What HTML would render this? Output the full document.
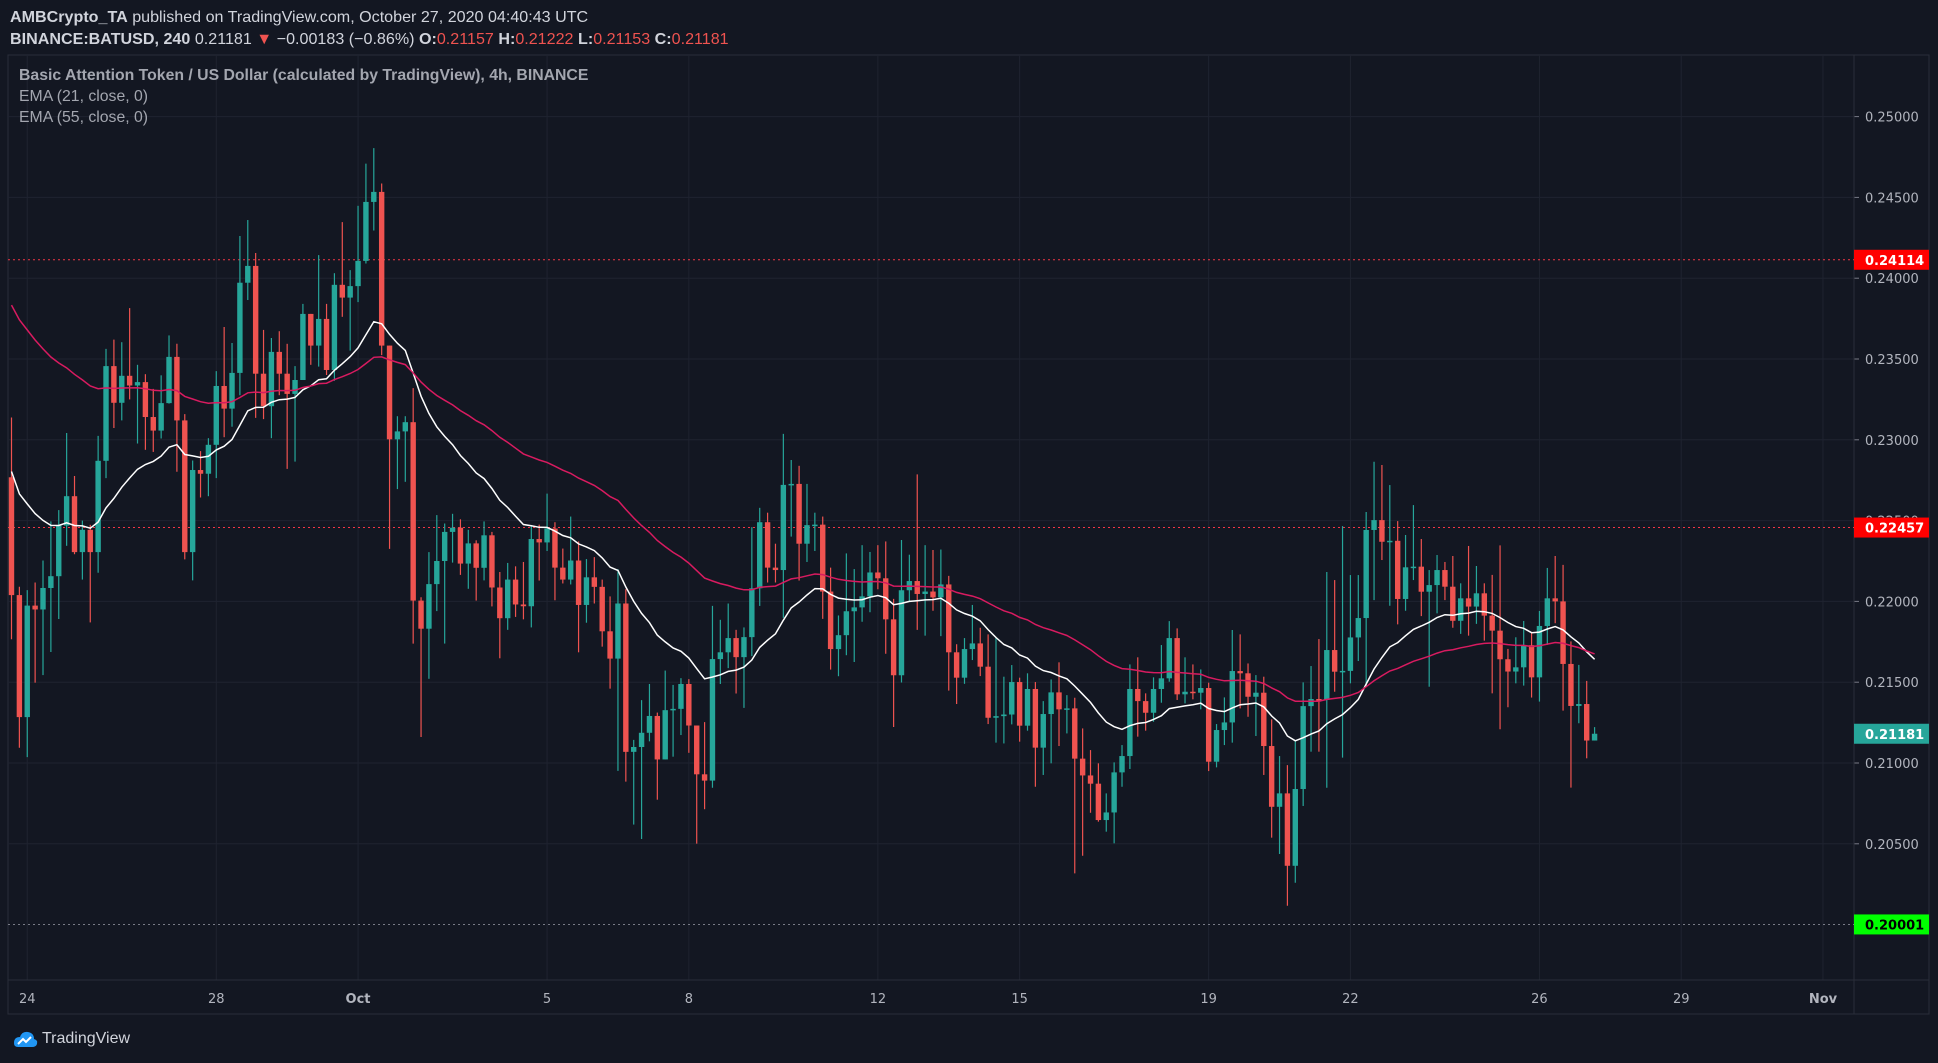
<!DOCTYPE html>
<html><head><meta charset="utf-8"><style>
html,body{margin:0;padding:0;background:#131722;width:1938px;height:1063px;overflow:hidden;font-family:"Liberation Sans",sans-serif}
.hdr{position:absolute;left:10px;color:#d1d4dc;font-size:16.1px;white-space:nowrap}
.red{color:#ef5350}
.leg{position:absolute;left:19px;color:#a3a6af;font-size:15.8px;white-space:nowrap}
</style></head><body>
<div class="hdr" style="top:8px"><b>AMBCrypto_TA</b> published on TradingView.com, October 27, 2020 04:40:43 UTC</div>
<div class="hdr" style="top:30px"><b>BINANCE:BATUSD, 240</b> 0.21181 <span class="red">▼</span> −0.00183 (−0.86%) <b>O:</b><span class="red">0.21157</span> <b>H:</b><span class="red">0.21222</span> <b>L:</b><span class="red">0.21153</span> <b>C:</b><span class="red">0.21181</span></div>
<svg id="chart" width="1938" height="1063" style="position:absolute;left:0;top:0"></svg>
<div class="leg" style="top:67px;font-weight:bold">Basic Attention Token / US Dollar (calculated by TradingView), 4h, BINANCE</div>
<div class="leg" style="top:88px">EMA (21, close, 0)</div>
<div class="leg" style="top:109px">EMA (55, close, 0)</div>
<div style="position:absolute;left:12px;top:1029px;display:flex;align-items:center">
<svg width="26" height="20" viewBox="0 0 26 20"><path d="M2 14 Q2 8 8 8 Q10 2 16 3 Q22 4 22 10 Q26 11 25 15 Q24 18 20 18 L6 18 Q2 18 2 14Z" fill="#2196f3"/><path d="M6 15 L11 10 L14 13 L19 8" stroke="#fff" stroke-width="2" fill="none"/></svg>
<span style="color:#d1d4dc;font-size:16px;margin-left:4px">TradingView</span></div>
<script>
const firstOpen=22768;
const closes=[22039,21284,21974,21950,22083,22156,22469,22651,22305,22443,22305,22870,23456,23229,23396,23336,23357,23141,23057,23227,23513,23120,22305,22813,22790,22969,23333,23193,23414,23972,24076,23409,23208,23544,23409,23284,23370,23779,23583,23748,23432,23959,23880,23951,24107,24472,24534,23583,23003,23052,23109,22005,21831,22107,22250,22430,22456,22234,22359,22208,22409,22086,21896,22135,21981,21970,22386,22365,22451,22209,22135,22253,21978,22149,22090,21815,21646,21987,21069,21099,21187,21291,21022,21327,21335,21489,21232,20930,20891,21643,21685,21773,21655,21779,22081,22490,22209,22194,22721,22727,22357,22472,22475,22061,21705,21791,21939,21963,22031,22179,22143,21889,21543,22069,22126,22046,22061,22025,22105,21685,21528,21705,21740,21596,21280,21290,21300,21501,21231,21458,21095,21303,21437,21332,21338,21027,20923,20872,20647,20694,20942,21043,21458,21383,21311,21458,21524,21773,21425,21441,21435,21464,21008,21204,21251,21569,21555,21410,21435,21105,20729,20812,20364,20839,21352,21396,21390,21699,21565,21570,21777,21897,22442,22503,22369,22375,22015,22211,22215,22060,22101,22194,22091,21880,22019,21968,22050,21912,21819,21642,21566,21592,21729,21530,21848,22019,22000,21613,21353,21365,21139,21181];
const highs=[23138,22091,22070,22117,22253,22495,22565,23042,22776,22500,22474,23024,23563,23620,23604,23815,23464,23406,23315,23399,23646,23594,23159,22872,22930,23010,23425,23698,23599,24261,24360,24156,23680,23630,23672,23594,23456,23841,23771,24143,23841,24031,24347,24050,24448,24709,24805,24586,23570,23146,23146,23320,22026,22305,22534,22482,22542,22508,22443,22378,22495,22430,22182,22238,22217,22244,22466,22475,22667,22490,22327,22525,22371,22262,22274,22135,22031,22200,22075,21143,21389,21489,21312,21572,21483,21525,21519,21232,21253,21972,21886,21987,21824,21839,22460,22579,22549,22357,23037,22875,22839,22727,22549,22525,22209,21913,22297,22200,22348,22306,22348,22371,22016,22380,22289,22786,22348,22318,22321,22158,21735,21773,21978,21837,21796,21777,21534,21606,21528,21555,21501,21383,21517,21623,21420,21404,21214,21080,20998,20812,21004,21111,21610,21654,21431,21530,21730,21878,21833,21654,21610,21579,21497,21241,21406,21823,21796,21616,21544,21534,21270,21043,20987,21142,21499,21600,21767,22182,22132,22466,22163,22163,22553,22864,22844,22720,22497,22411,22596,22386,22194,22287,22244,22281,22112,22343,22219,22112,22164,22347,21706,21778,21879,21803,21941,22207,22281,22226,21753,21607,21508,21222];
const lows=[21766,21094,21036,21497,21544,21687,21891,22344,22292,22135,21870,22177,22763,23073,23120,23250,22977,22938,22925,23008,23224,22802,22260,22130,22643,22651,22763,23016,23081,23276,23865,23136,23128,23010,23276,22820,22865,23388,23464,23453,23401,23365,23761,23552,23852,24091,24295,23524,22325,22695,22740,21739,21161,21521,21940,21739,22240,22164,22078,22005,22130,21969,21648,21824,21904,21889,21839,22129,22312,22007,22111,22105,21685,21868,21987,21720,21460,20951,20885,20619,20530,21134,20773,21030,21039,21173,21063,20501,20714,20847,21489,21587,21430,21341,21661,21972,22117,22117,21898,22401,22129,22244,22312,21892,21578,21537,21667,21625,21874,21933,22075,21676,21223,21498,22001,21824,21788,21942,21785,21448,21365,21490,21637,21538,21241,21126,21121,21239,21132,21200,20853,20926,20998,21105,21183,20317,20426,20692,20637,20575,20503,20853,20963,21163,21200,21255,21373,21503,21390,21369,21394,21332,20950,20973,21111,21126,21338,21286,21167,20926,20538,20437,20117,20259,20734,21070,21070,20847,21441,21033,21493,21631,21472,22008,22256,21973,21858,21942,22132,21909,21472,21926,22008,21837,21799,21788,21861,21757,21431,21209,21345,21493,21479,21405,21380,21731,21865,21324,20848,21246,21029,21153];
const emaSeeds=[22880,23900];
const priceTicks=[0.205,0.21,0.215,0.22,0.225,0.23,0.235,0.24,0.245,0.25];
const priceTickLabels=["0.20500","0.21000","0.21500","0.22000","0.22500","0.23000","0.23500","0.24000","0.24500","0.25000"];
const dayLabels=["24","28","Oct","5","8","12","15","19","22","26","29","Nov"];
const dayOffsets=[0,4,7,11,14,18,21,25,28,32,35,38];
const levels=[0.24114,0.22457,0.20001];
const levelLabels=["0.24114","0.22457","0.20001"];

const NS="http://www.w3.org/2000/svg";
const svg=document.getElementById('chart');
const L=8,R=1854,T=55,B=980,AX=1929,BOT=1014;
function yOf(p){return 116.6+(0.25-p)*16160;}
function xOf(i){return 11.5+i*7.876;}
function xDay(d){return xOf(2)+d*6*7.876;}
function mk(tag,at){const e=document.createElementNS(NS,tag);for(const k in at)e.setAttribute(k,at[k]);svg.appendChild(e);return e;}

const frame=mk('rect',{x:L,y:T,width:AX-L,height:BOT-T,fill:'none',stroke:'#2a2e39','stroke-width':1});


priceTicks.forEach((p,i)=>{
  const g=mk('line',{x1:L,x2:R,y1:yOf(p),y2:yOf(p),stroke:'#1f2330','stroke-width':1});
  
  
  const tk=mk('line',{x1:R,x2:R+5,y1:yOf(p),y2:yOf(p),stroke:'#787b86'});
  
  
  const t=mk('text',{x:1865,y:yOf(p)+5,fill:'#b2b5be','font-size':'13','font-family':'DejaVu Sans, sans-serif'});
  t.textContent=priceTickLabels[i];
  
  
});
dayOffsets.forEach((d,i)=>{
  const x=xDay(d);
  const g=mk('line',{x1:x,x2:x,y1:T,y2:B,stroke:'#1f2330','stroke-width':1});
  
  
  const t=mk('text',{x:x,y:1003,fill:'#b2b5be','font-size':'13','text-anchor':'middle','font-family':'DejaVu Sans, sans-serif','font-weight':(dayLabels[i]==='Oct'||dayLabels[i]==='Nov')?'bold':'normal'});
  t.textContent=dayLabels[i];
  
  
});
const ax1=mk('line',{x1:R,x2:R,y1:T,y2:BOT,stroke:'#2a2e39'});


const ax2=mk('line',{x1:L,x2:AX,y1:B,y2:B,stroke:'#2a2e39'});



const lvlCol=['#f23645','#f23645','#787b86'];
levels.forEach((p,i)=>{
  const l=mk('line',{x1:L,x2:R,y1:yOf(p),y2:yOf(p),stroke:lvlCol[i],'stroke-width':1,'stroke-dasharray':'2 3'});
  
  
});

let prev=firstOpen;
for(let i=0;i<closes.length;i++){
  const o=prev/1e5,c=closes[i]/1e5;
  const h=Math.max(highs[i]/1e5,o,c),lw=Math.min(lows[i]/1e5,o,c);
  const col=c>=o?'#26a69a':'#ef5350';
  const x=xOf(i);
  const w=mk('line',{x1:x,x2:x,y1:yOf(h),y2:yOf(lw),stroke:col,'stroke-width':1.2});
  
  
  const yt=yOf(Math.max(o,c)),yb=yOf(Math.min(o,c));
  const b=mk('rect',{x:x-2.7,y:yt,width:5.4,height:Math.max(1.5,yb-yt),fill:col});
  
  
  prev=closes[i];
}
function ema(n,seed){const k=2/(n+1);let e=seed;return closes.map(c=>{e=c*k+e*(1-k);return e;});}
[[21,emaSeeds[0],'#ffffff','ema-21-line'],[55,emaSeeds[1],'#d81b60','ema-55-line']].forEach(([n,s,col,nm])=>{
  const v=ema(n,s);
  const d=v.map((e,i)=>(i?'L':'M')+xOf(i).toFixed(1)+' '+yOf(e/1e5).toFixed(1)).join(' ');
  const p=mk('path',{d:d,fill:'none',stroke:col,'stroke-width':1.5});
  
  
});
function tag(p,txt,bg,fg,nm){
  const r=mk('rect',{x:R,y:yOf(p)-10,width:AX-R,height:20,fill:bg});
  
  
  const t=mk('text',{x:1865,y:yOf(p)+5,fill:fg,'font-size':'13','font-family':'DejaVu Sans, sans-serif','font-weight':'bold'});
  t.textContent=txt;
  
  
}
tag(levels[0],levelLabels[0],'#ff0000','#ffffff','level-label-upper');
tag(levels[1],levelLabels[1],'#ff0000','#ffffff','level-label-middle');
tag(levels[2],levelLabels[2],'#00ff00','#000000','level-label-lower');
tag(closes[closes.length-1]/1e5,(closes[closes.length-1]/1e5).toFixed(5),'#26a69a','#ffffff','last-price-label');
</script>
</body></html>
